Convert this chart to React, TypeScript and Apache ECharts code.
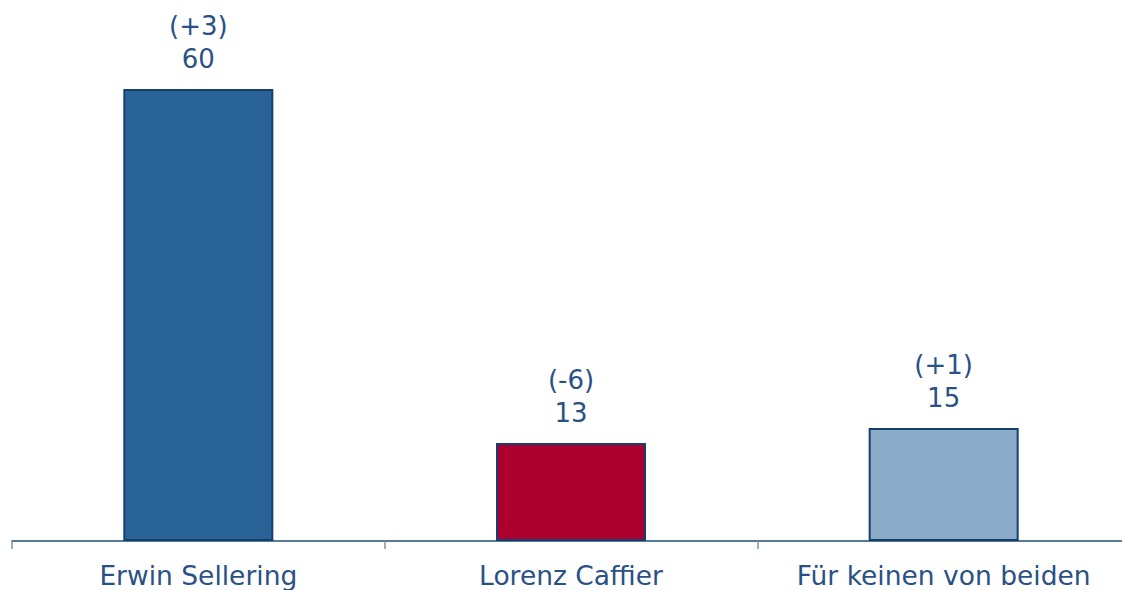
import React, { useEffect, useRef } from "react";
import * as echarts from "echarts";

const categories = ["Erwin Sellering", "Lorenz Caffier", "Für keinen von beiden"];
const values = [60, 13, 15];
const changes = ["(+3)", "(-6)", "(+1)"];
const colors = ["#2a6496", "#ac0030", "#8aabc8"];

export default function App() {
  const ref = useRef<HTMLDivElement>(null);
  useEffect(() => {
    document.body.style.margin = "0";
    document.body.style.overflow = "hidden";
    const chart = echarts.init(ref.current!, null, { renderer: "svg" });
    chart.setOption({
      animation: false,
      grid: { left: 12, width: 1118, top: 89, bottom: 49, containLabel: false, outerBoundsMode: "none" },
      xAxis: {
        type: "category",
        data: categories,
        axisLine: { lineStyle: { color: "#1f4e79", width: 1.5 } },
        axisTick: { show: true, interval: 0, length: 8, lineStyle: { color: "#7f95ad", width: 1.5 } },
        axisLabel: {
          interval: 0,
          hideOverlap: false,
          color: "#2a5185",
          fontFamily: "DejaVu Sans",
          fontSize: 26.5,
          margin: 21,
        },
      },
      yAxis: { type: "value", min: 0, max: 60, show: false, splitLine: { show: false } },
      series: [
        {
          type: "bar",
          barWidth: 150,
          data: values.map((v, i) => ({
            value: v,
            itemStyle: { color: colors[i], borderColor: "#173f6b", borderWidth: 2 },
          })),
          label: {
            show: true,
            position: "top",
            distance: 14,
            color: "#2a5185",
            fontFamily: "DejaVu Sans",
            fontSize: 26,
            lineHeight: 33,
            formatter: (p: any) => `${changes[p.dataIndex]}\n${p.value}`,
          },
        },
      ],
    });
    return () => chart.dispose();
  }, []);
  return <div ref={ref} style={{ width: 1122, height: 590 }} />;
}
